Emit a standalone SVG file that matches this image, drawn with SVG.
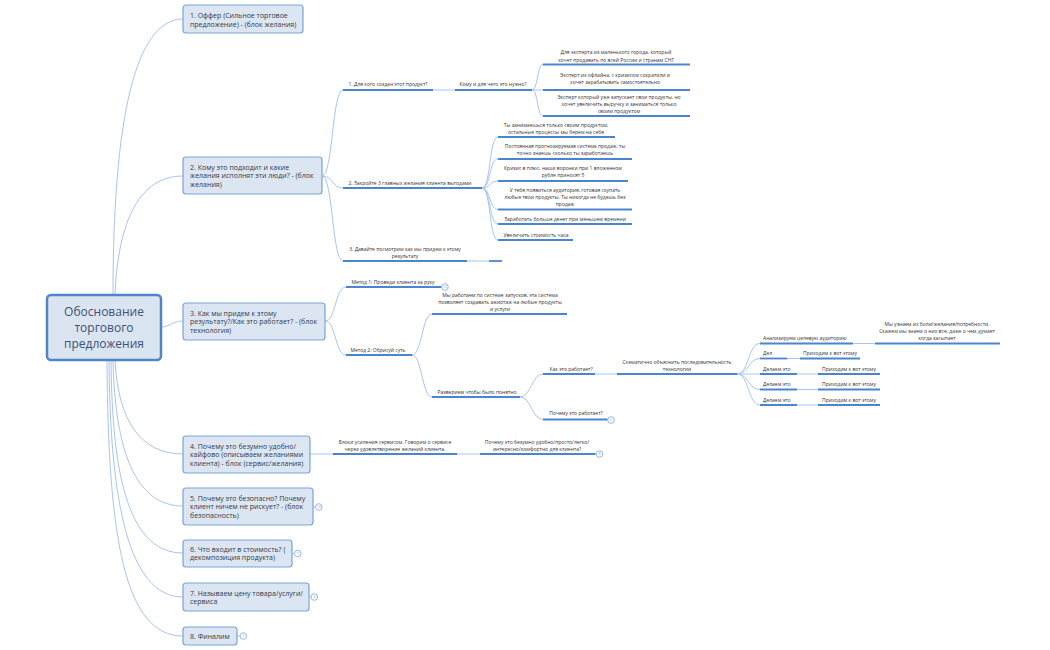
<svg xmlns="http://www.w3.org/2000/svg" width="1050" height="650" viewBox="0 0 1050 650">
<style>
.bg{fill:#ffffff}
.root rect{fill:#dbe5f2;stroke:#4f86c6;stroke-width:2.5}
.root text{font-family:"Open Sans","Liberation Sans",sans-serif;font-size:12px;fill:#3a5376;text-anchor:middle}
.main rect{fill:#dce6f2;stroke:#7ba4d8;stroke-width:1.2}
.main text{font-family:"Open Sans","Liberation Sans",sans-serif;font-size:7px;fill:#2f3b4c}
.sub text{font-family:"Open Sans","Liberation Sans",sans-serif;font-size:5px;fill:#333333;text-anchor:middle}
.sub text.l{text-anchor:start}
.ul{stroke:#4a86cf;stroke-width:1.8;fill:none}
.conn path,.conn line{stroke:#a9c5ec;stroke-width:1;fill:none}
.badge circle{fill:#ffffff;stroke:#7ea6da;stroke-width:0.8}
.badge text{font-family:"Open Sans","Liberation Sans",sans-serif;font-size:3.6px;fill:#7ea6da;text-anchor:middle}
</style>
<rect class="bg" x="0" y="0" width="1050" height="650"/>

<g id="connectors" class="conn">
  <path d="M 113 295 C 113 120, 135 19, 183 19"/>
  <path d="M 115 295 C 118 220, 140 176, 183 176"/>
  <path d="M 161 327 C 170 327, 172 321, 183 321"/>
  <path d="M 115 360 C 118 420, 140 454, 183 454"/>
  <path d="M 113 360 C 115 450, 135 506, 183 506"/>
  <path d="M 111 360 C 112 480, 130 553, 183 553"/>
  <path d="M 109 360 C 110 500, 128 597, 183 597"/>
  <path d="M 107 360 C 108 540, 125 636, 183 636"/>
  <path d="M 322 176 C 333 176, 332 90, 343 90"/>
  <path d="M 322 176 C 333 176, 332 188, 343 188"/>
  <path d="M 322 176 C 333 176, 332 261, 343 261"/>
  <line x1="433" y1="90" x2="455" y2="90"/>
  <path d="M 532 90 C 538 90, 537 64.5, 543 64.5"/>
  <line x1="532" y1="90" x2="543" y2="90"/>
  <path d="M 532 90 C 538 90, 537 116, 543 116"/>
  <path d="M 482 188 C 491 188, 489 137, 498 137"/>
  <path d="M 482 188 C 491 188, 489 159, 498 159"/>
  <path d="M 482 188 C 491 188, 489 181, 498 181"/>
  <path d="M 482 188 C 491 188, 489 209.5, 498 209.5"/>
  <path d="M 482 188 C 491 188, 489 224, 498 224"/>
  <path d="M 482 188 C 491 188, 489 240, 498 240"/>
  <line x1="467" y1="261" x2="489" y2="261"/>
  <path d="M 325 321 C 336 321, 335 287, 346 287"/>
  <path d="M 325 321 C 336 321, 335 355, 346 355"/>
  <path d="M 412 355 C 422 355, 422 314, 432 314"/>
  <path d="M 412 355 C 422 355, 422 397, 432 397"/>
  <path d="M 520 397 C 531 397, 532 374, 543 374"/>
  <path d="M 520 397 C 531 397, 532 419.5, 543 419.5"/>
  <line x1="595" y1="374" x2="617" y2="374"/>
  <path d="M 737 374 C 749 374, 748 343.5, 760 343.5"/>
  <path d="M 737 374 C 749 374, 748 358.5, 760 358.5"/>
  <line x1="737" y1="374" x2="760" y2="374"/>
  <path d="M 737 374 C 749 374, 748 389.5, 760 389.5"/>
  <path d="M 737 374 C 749 374, 748 405, 760 405"/>
  <line x1="853" y1="343.5" x2="875" y2="343.5"/>
  <line x1="787" y1="358.5" x2="800" y2="358.5"/>
  <line x1="797" y1="374" x2="818" y2="374"/>
  <line x1="797" y1="389.5" x2="818" y2="389.5"/>
  <line x1="797" y1="405" x2="818" y2="405"/>
  <line x1="310" y1="454" x2="333" y2="454"/>
  <line x1="457" y1="454" x2="480" y2="454"/>
  <line x1="313" y1="507" x2="315.5" y2="507"/>
  <line x1="292" y1="553.5" x2="294.5" y2="553.5"/>
  <line x1="309" y1="597" x2="311" y2="597"/>
  <line x1="237" y1="636" x2="240" y2="636"/>
</g>

<g id="root" class="root">
  <rect x="47" y="295" width="114" height="65" rx="4"/>
  <text x="104" y="316">Обоснование</text>
  <text x="104" y="332">торгового</text>
  <text x="104" y="348">предложения</text>
</g>

<g id="n1" class="main">
  <rect x="183" y="5" width="120" height="28" rx="3"/>
  <text x="190" y="17.5">1. Оффер (Сильное торговое</text>
  <text x="190" y="26.5">предложение) - (блок желания)</text>
</g>
<g id="n2" class="main">
  <rect x="183" y="157" width="139" height="37" rx="3"/>
  <text x="190" y="169.5">2. Кому это подходит и какие</text>
  <text x="190" y="178.2">желания исполнят эти люди? - (блок</text>
  <text x="190" y="186.9">желания)</text>
</g>
<g id="n3" class="main">
  <rect x="183" y="303" width="142" height="37" rx="3"/>
  <text x="190" y="315.5">3. Как мы придем к этому</text>
  <text x="190" y="324.2">результату?/Как это работает? - (блок</text>
  <text x="190" y="332.9">технология)</text>
</g>
<g id="n4" class="main">
  <rect x="183" y="436" width="127" height="37" rx="3"/>
  <text x="190" y="448.5">4. Почему это безумно удобно/</text>
  <text x="190" y="457.2">кайфово (описываем желаниями</text>
  <text x="190" y="465.9">клиента) - блок (сервис/желания)</text>
</g>
<g id="n5" class="main">
  <rect x="183" y="488" width="130" height="37" rx="3"/>
  <text x="190" y="500.5">5. Почему это безопасно? Почему</text>
  <text x="190" y="509.2">клиент ничем не рискует? - (блок</text>
  <text x="190" y="517.9">безопасность)</text>
  <g class="badge"><circle cx="318.8" cy="507" r="3.3"/><text x="318.8" y="508.3">10</text></g>
</g>
<g id="n6" class="main">
  <rect x="183" y="540" width="109" height="27" rx="3"/>
  <text x="190" y="551.5">6. Что входит в стоимость? (</text>
  <text x="190" y="560.2">декомпозиция продукта)</text>
  <g class="badge"><circle cx="297.8" cy="553.5" r="3.3"/><text x="297.8" y="554.8">7</text></g>
</g>
<g id="n7" class="main">
  <rect x="183" y="583" width="126" height="28" rx="3"/>
  <text x="190" y="595.5">7. Называем цену товара/услуги/</text>
  <text x="190" y="604.2">сервиса</text>
  <g class="badge"><circle cx="314.3" cy="597" r="3.3"/><text x="314.3" y="598.3">4</text></g>
</g>
<g id="n8" class="main">
  <rect x="183" y="627" width="54" height="18" rx="3"/>
  <text x="190" y="638.5">8. Финалим</text>
  <g class="badge"><circle cx="243.3" cy="636" r="3.3"/><text x="243.3" y="637.3">3</text></g>
</g>

<g id="s-dlya-kogo" class="sub">
  <text x="388" y="86">1. Для кого создан этот продукт?</text>
  <line class="ul" x1="343" y1="90" x2="433" y2="90"/>
</g>
<g id="s-komu" class="sub">
  <text x="493" y="86">Кому и для чего это нужно?</text>
  <line class="ul" x1="455" y1="90" x2="532" y2="90"/>
</g>
<g id="s-a1" class="sub">
  <text x="616" y="54">Для эксперта из маленького города, который</text>
  <text x="616" y="61.5">хочет продавать по всей России и странам СНГ</text>
  <line class="ul" x1="543" y1="64.5" x2="690" y2="64.5"/>
</g>
<g id="s-a2" class="sub">
  <text x="615" y="76.5">Эксперт из офлайна, с кризисом сократили и</text>
  <text x="615" y="84">хочет зарабатывать самостоятельно</text>
  <line class="ul" x1="543" y1="90" x2="690" y2="90"/>
</g>
<g id="s-a3" class="sub">
  <text x="619" y="98.5">Эксперт который уже запускает свои продукты, но</text>
  <text x="619" y="105.5">хочет увеличить выручку  и заниматься только</text>
  <text x="619" y="112.5">своим продуктом</text>
  <line class="ul" x1="543" y1="116" x2="690" y2="116"/>
</g>
<g id="s-zakroyte" class="sub">
  <text x="410" y="185">2. Закройте 3 главных желания клиента выгодами</text>
  <line class="ul" x1="343" y1="188" x2="482" y2="188"/>
</g>
<g id="s-c1" class="sub">
  <text x="556" y="126.5">Ты занимаешься только своим продуктом,</text>
  <text x="556" y="133.5">остальные процессы мы берем на себя</text>
  <line class="ul" x1="498" y1="137" x2="615" y2="137"/>
</g>
<g id="s-c2" class="sub">
  <text x="565" y="148">Постоянная прогнозируемая система продаж, ты</text>
  <text x="565" y="155">точно знаешь сколько ты заработаешь</text>
  <line class="ul" x1="498" y1="159" x2="632" y2="159"/>
</g>
<g id="s-c3" class="sub">
  <text x="563" y="170">Кризис в плюс, наши воронки при 1  вложенном</text>
  <text x="563" y="177">рубле приносят 5</text>
  <line class="ul" x1="498" y1="181" x2="628" y2="181"/>
</g>
<g id="s-c4" class="sub">
  <text x="565" y="192">У тебя появиться аудитория, готовая скупать</text>
  <text x="565" y="199">любые твои продукты. Ты никогда не будешь без</text>
  <text x="565" y="206">продаж</text>
  <line class="ul" x1="498" y1="209.5" x2="632" y2="209.5"/>
</g>
<g id="s-c5" class="sub">
  <text x="565" y="221">Заработать больше денег при меньшем времени</text>
  <line class="ul" x1="498" y1="224" x2="632" y2="224"/>
</g>
<g id="s-c6" class="sub">
  <text x="536" y="237">Увеличить стоимость часа</text>
  <line class="ul" x1="498" y1="240" x2="573" y2="240"/>
</g>
<g id="s-davayte" class="sub">
  <text x="405" y="251">3. Давайте посмотрим как мы придем к этому</text>
  <text x="405" y="258">результату</text>
  <line class="ul" x1="343" y1="261" x2="467" y2="261"/>
  <line class="ul" x1="489" y1="261" x2="502" y2="261"/>
</g>

<g id="s-metod1" class="sub">
  <text x="393" y="283.5">Метод 1: Проведи клиента за руку</text>
  <line class="ul" x1="346" y1="287" x2="441.5" y2="287"/>
  <g class="badge"><circle cx="445" cy="287" r="3.3"/><text x="445" y="288.3">10</text></g>
</g>
<g id="s-metod2" class="sub">
  <text x="378" y="352">Метод 2: Обрисуй суть</text>
  <line class="ul" x1="346" y1="355" x2="412" y2="355"/>
</g>
<g id="s-e1" class="sub">
  <text x="500" y="297">Мы работаем по системе запусков, эта система</text>
  <text x="500" y="304">позволяет создавать ажиотаж на любые продукты</text>
  <text x="500" y="311">и услуги</text>
  <line class="ul" x1="432" y1="314" x2="567" y2="314"/>
</g>
<g id="s-razverem" class="sub">
  <text x="477" y="393.5">Разверием чтобы было понятно</text>
  <line class="ul" x1="432" y1="397" x2="520" y2="397"/>
</g>
<g id="s-kak" class="sub">
  <text x="571" y="370.5">Как это работает?</text>
  <line class="ul" x1="543" y1="374" x2="595" y2="374"/>
</g>
<g id="s-pochemu" class="sub">
  <text x="576" y="415">Почему это работает?</text>
  <line class="ul" x1="543" y1="419.5" x2="607.5" y2="419.5"/>
  <g class="badge"><circle cx="611" cy="420" r="3.3"/><text x="611" y="421.3">6</text></g>
</g>
<g id="s-shema" class="sub">
  <text x="677" y="364">Схематично объяснить последовательность</text>
  <text x="677" y="371">технологии</text>
  <line class="ul" x1="617" y1="374" x2="737" y2="374"/>
</g>
<g id="s-h1" class="sub">
  <text class="l" x="763" y="340">Анализируем целевую аудиторию</text>
  <line class="ul" x1="760" y1="343.5" x2="853" y2="343.5"/>
</g>
<g id="s-i1" class="sub">
  <text x="937" y="326">Мы узнаем их боли/желания/потребности.</text>
  <text x="937" y="333">Скажем мы знаем о них все, даже о чем думает</text>
  <text x="937" y="340">когда засыпает</text>
  <line class="ul" x1="875" y1="343.5" x2="1000" y2="343.5"/>
</g>
<g id="s-h2" class="sub">
  <text class="l" x="763" y="355">Дел</text>
  <line class="ul" x1="760" y1="358.5" x2="787" y2="358.5"/>
</g>
<g id="s-j2" class="sub">
  <text class="l" x="803" y="355">Приходим к вот этому</text>
  <line class="ul" x1="800" y1="358.5" x2="860" y2="358.5"/>
</g>
<g id="s-h3" class="sub">
  <text class="l" x="763" y="371">Делаем это</text>
  <line class="ul" x1="760" y1="374" x2="797" y2="374"/>
</g>
<g id="s-j3" class="sub">
  <text class="l" x="822" y="371">Приходим к вот этому</text>
  <line class="ul" x1="818" y1="374" x2="880" y2="374"/>
</g>
<g id="s-h4" class="sub">
  <text class="l" x="763" y="386">Делаем это</text>
  <line class="ul" x1="760" y1="389.5" x2="797" y2="389.5"/>
</g>
<g id="s-j4" class="sub">
  <text class="l" x="822" y="386">Приходим к вот этому</text>
  <line class="ul" x1="818" y1="389.5" x2="880" y2="389.5"/>
</g>
<g id="s-h5" class="sub">
  <text class="l" x="763" y="401.5">Делаем это</text>
  <line class="ul" x1="760" y1="405" x2="797" y2="405"/>
</g>
<g id="s-j5" class="sub">
  <text class="l" x="822" y="401.5">Приходим к вот этому</text>
  <line class="ul" x1="818" y1="405" x2="880" y2="405"/>
</g>

<g id="s-k1" class="sub">
  <text x="395" y="444">Блоки усиления сервисом. Говорим о сервисе</text>
  <text x="395" y="451">через удовлетворение желаний клиента.</text>
  <line class="ul" x1="333" y1="454" x2="457" y2="454"/>
</g>
<g id="s-k2" class="sub">
  <text x="537" y="444">Почему это безумно удобно/просто/легко/</text>
  <text x="537" y="451">интересно/комфортно для клиента?</text>
  <line class="ul" x1="480" y1="454" x2="595.5" y2="454"/>
  <g class="badge"><circle cx="599.5" cy="454" r="3.3"/><text x="599.5" y="455.3">8</text></g>
</g>
</svg>
